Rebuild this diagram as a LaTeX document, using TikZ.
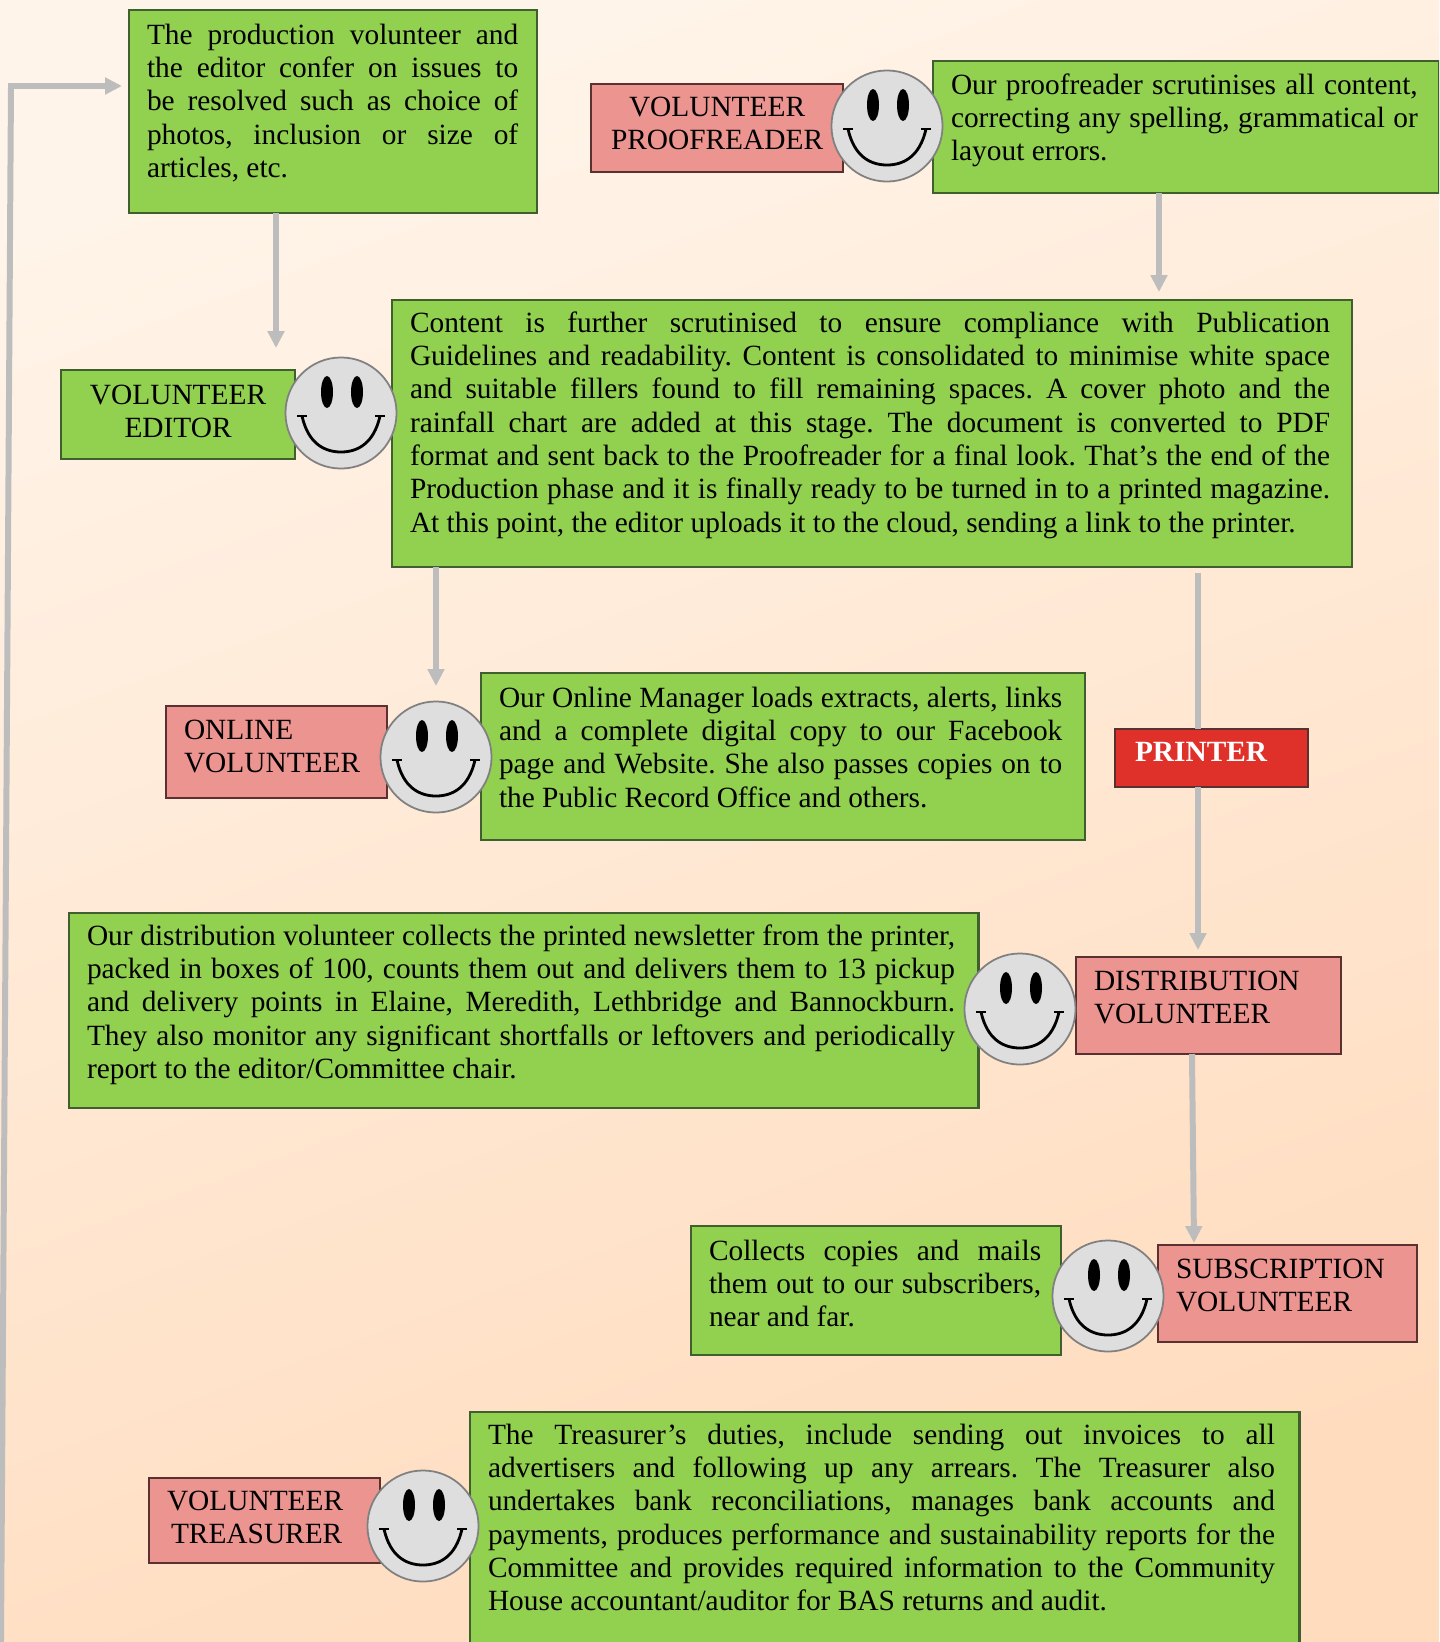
\documentclass[tikz,border=0pt]{standalone}
\usepackage{fontspec}
\usepackage{color}
\usetikzlibrary{arrows.meta}
\setmainfont{Liberation Serif}
\frenchspacing

\definecolor{pagelight}{HTML}{FFF4E9}
\definecolor{pagedark}{HTML}{FFDCBE}
\definecolor{boxgreen}{HTML}{92D050}
\definecolor{edgegreen}{HTML}{3F5F2E}
\definecolor{labelpink}{HTML}{EC9490}
\definecolor{edgepink}{HTML}{5A3030}
\definecolor{printerred}{HTML}{E0302A}
\definecolor{flowgray}{HTML}{BDBDBD}
\definecolor{facegray}{HTML}{DEDEDE}

\tikzset{%
  plate/.style={draw, line width=0.6pt, anchor=north west, outer sep=0pt,
    inner xsep=0.18cm, inner ysep=0pt, text height=0.34cm,
    font=\fontsize{8.35}{9.49}\selectfont},
  greenbox/.style={plate, fill=boxgreen, draw=edgegreen, align=justify,
    execute at begin node={\rightskip=#1\relax}},
  pinklabel/.style={plate, fill=labelpink, draw=edgepink, align=left},
  greenlabel/.style={plate, fill=boxgreen, draw=edgegreen, align=center},
  redlabel/.style={plate, fill=printerred, draw=edgepink, text=white, align=left,
    font=\fontsize{8.35}{9.49}\selectfont\bfseries},
  flowline/.style={color=flowgray, line width=1.7pt},
  flowarrow/.style={flowline, -{Triangle[length=4.8pt,width=4.6pt]}},
  facering/.style={circle, draw=gray, fill=facegray, line width=0.5pt,
    minimum size=1.11cm, inner sep=0pt},
  smileyface/.pic={
    \fill [black] (-14,-21) ellipse [x radius=6, y radius=16];
    \fill [black] (16,-21) ellipse [x radius=6, y radius=16];
    \draw [black, line width=0.8pt] (-39,3) .. controls (-33,30) and (-17,39) .. (0,39)
      .. controls (17,39) and (33,30) .. (39,3);
    \draw [black, line width=0.8pt] (-44,3) -- (-34,3);
    \draw [black, line width=0.8pt] (34,3) -- (44,3);
  },
}

\begin{document}
\begin{tikzpicture}[%
      x=0.01cm,
      y=-0.01cm,
      ]
      \useasboundingbox (0,0) rectangle (1439,1642);
      \clip (0,0) rectangle (1439,1642);
      \shade [top color=pagelight, bottom color=pagedark, shading angle=20] (0,0) rectangle (1439,1642);

      \node [greenbox=0.01cm, text width=3.72cm, text depth=1.69cm] (prodbox) at (129,10) {The production volunteer and\linebreak the editor confer on issues to\linebreak be resolved such as choice of\linebreak photos, inclusion or size of\linebreak articles, etc.};
      \node [pinklabel, align=center, text height=0.32cm, text width=2.16cm, text depth=0.56cm] (prooflabel) at (591,84) {VOLUNTEER\\PROOFREADER};
      \node [greenbox=0.035cm, text height=0.33cm, text width=4.70cm, text depth=0.99cm] (proofbox) at (933,61) {Our proofreader scrutinises all content,\linebreak correcting any spelling, grammatical or\linebreak layout errors.};

      \node [greenlabel, text width=1.98cm, text depth=0.55cm] (editorlabel) at (61,370) {VOLUNTEER\\EDITOR};
      \node [greenbox=0.035cm, text height=0.32cm, text width=9.23cm, text depth=2.35cm] (contentbox) at (392,300) {Content is further scrutinised to ensure compliance with Publication\linebreak Guidelines and readability. Content is consolidated to minimise white space\linebreak and suitable fillers found to fill remaining spaces. A cover photo and the\linebreak rainfall chart are added at this stage. The document is converted to PDF\linebreak format and sent back to the Proofreader for a final look. That’s the end of the\linebreak Production phase and it is finally ready to be turned in to a printed magazine.\linebreak At this point, the editor uploads it to the cloud, sending a link to the printer.};

      \node [pinklabel, text height=0.33cm, text width=1.85cm, text depth=0.59cm] (onlinelabel) at (166,706) {ONLINE\\VOLUNTEER};
      \node [greenbox=0.05cm, text width=5.68cm, text depth=1.33cm] (onlinebox) at (481,673) {Our Online Manager loads extracts, alerts, links\linebreak and a complete digital copy to our Facebook\linebreak page and Website. She also passes copies on to\linebreak the Public Record Office and others.};

      \node [greenbox=0.055cm, text height=0.32cm, text width=8.73cm, text depth=1.63cm] (distbox) at (69,913) {Our distribution volunteer collects the printed newsletter from the printer,\linebreak packed in boxes of 100, counts them out and delivers them to 13 pickup\linebreak and delivery points in Elaine, Meredith, Lethbridge and Bannockburn.\linebreak They also monitor any significant shortfalls or leftovers and periodically\linebreak report to the editor/Committee chair.};
      \node [pinklabel, text height=0.33cm, text width=2.29cm, text depth=0.64cm] (distlabel) at (1076,957) {DISTRIBUTION\\VOLUNTEER};

      \node [greenbox=0.02cm, text width=3.34cm, text depth=0.95cm] (subbox) at (691,1226) {Collects copies and mails\linebreak them out to our subscribers,\linebreak near and far.};
      \node [pinklabel, text height=0.33cm, text width=2.23cm, text depth=0.64cm] (sublabel) at (1158,1245) {SUBSCRIPTION\\VOLUNTEER};

      \node [pinklabel, text height=0.32cm, text width=1.95cm, text depth=0.53cm] (treasurerlabel) at (149,1478) {VOLUNTEER\\\hspace*{0.04cm}TREASURER};
      \node [greenbox=0.065cm, text height=0.32cm, text width=7.93cm, text depth=2.72cm] (treasurerbox) at (470,1412) {The Treasurer’s duties, include sending out invoices to all\linebreak advertisers and following up any arrears. The Treasurer also\linebreak undertakes bank reconciliations, manages bank accounts and\linebreak payments, produces performance and sustainability reports for the\linebreak Committee and provides required information to the Community\linebreak House accountant/auditor for BAS returns and audit.};

      \node [facering] (proofface) at (887,126) {};
      \pic at (proofface) {smileyface};
      \node [facering] (editorface) at (341,413) {};
      \pic at (editorface) {smileyface};
      \node [facering] (onlineface) at (436,757) {};
      \pic at (onlineface) {smileyface};
      \node [facering] (distface) at (1020,1009) {};
      \pic at (distface) {smileyface};
      \node [facering] (subface) at (1108,1296) {};
      \pic at (subface) {smileyface};
      \node [facering] (treasurerface) at (423,1526) {};
      \pic at (treasurerface) {smileyface};

      \coordinate (looptail) at (1,1642);
      \coordinate (loopbend) at (11,86);
      \coordinate (looptip) at (122,86);
      \coordinate (editortip) at (276,348);
      \coordinate (contenttip) at (1159,292);
      \coordinate (onlinetip) at (436,686);
      \coordinate (disttip) at (1198,950);
      \coordinate (subtail) at (1192,1054);
      \coordinate (subtip) at (1194,1243);

      \node [redlabel, text height=0.32cm, text width=1.57cm, text depth=0.26cm] (printerlabel) at (1115,729) {\hspace*{0.02cm}PRINTER};

      \draw [flowarrow] (looptail) -- (loopbend) -- (looptip);
      \draw [flowarrow] (prodbox.south -| editortip) -- (editortip);
      \draw [flowarrow] (proofbox.south -| contenttip) -- (contenttip);
      \draw [flowarrow] (contentbox.south -| onlinetip) -- (onlinetip);
      \draw [flowline, shorten <=0.06cm] (contentbox.south -| disttip) -- (printerlabel.north -| disttip);
      \draw [flowarrow] (printerlabel.south -| disttip) -- (disttip);
      \draw [flowarrow] (subtail) -- (subtip);
      \end{tikzpicture}
\end{document}
